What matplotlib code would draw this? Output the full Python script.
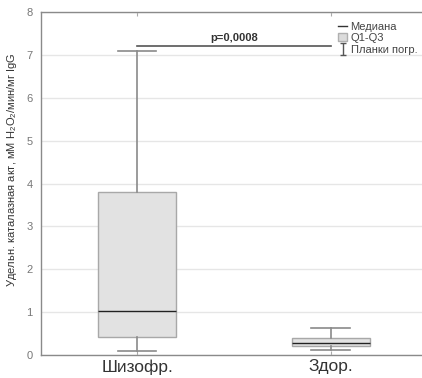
import matplotlib.pyplot as plt
import numpy as np
from matplotlib.lines import Line2D
from matplotlib.patches import Patch
from matplotlib.path import Path

plt.rcParams['font.family'] = ['Liberation Sans', 'DejaVu Sans']
plt.rcParams['mathtext.fontset'] = 'custom'
plt.rcParams['mathtext.rm'] = 'Liberation Sans'

# Группы и квартили (мМ H2O2/мин/мг IgG)
groups = ['Шизофр.', 'Здор.']
whisk_lo = [0.10, 0.12]
q1 = [0.42, 0.21]
median = [1.02, 0.28]
q3 = [3.80, 0.40]
whisk_hi = [7.09, 0.63]
p_text = 'p=0,0008'
p_level = 7.2

stats = []
for i, g in enumerate(groups):
    stats.append({'label': g, 'whislo': whisk_lo[i], 'q1': q1[i], 'med': median[i],
                  'q3': q3[i], 'whishi': whisk_hi[i], 'fliers': []})

fig = plt.figure(figsize=(4.22, 3.78), dpi=100)
ax = fig.add_axes([0.097, 0.061, 0.91, 0.907])

pos = np.arange(1, len(groups) + 1)
ax.bxp(stats, positions=pos, widths=0.404, patch_artist=True, showfliers=False,
       boxprops=dict(facecolor='#e2e2e2', edgecolor='#a8a8a8', linewidth=1.0),
       medianprops=dict(color='#222222', linewidth=1.0),
       whiskerprops=dict(color='#8a8a8a', linewidth=1.2),
       capprops=dict(color='#8a8a8a', linewidth=1.2), capwidths=0.2, zorder=3)

# линия значимости
ax.plot([pos[0], pos[1]], [p_level, p_level], color='#555555', lw=1.2, zorder=3)
ax.text((pos[0] + pos[1]) / 2, p_level + 0.08, p_text, ha='center', va='bottom',
        fontsize=8, fontweight='bold', color='#333333')

ax.set_xlim(0.503, 2.487)
ax.set_ylim(0, 8)
ax.set_yticks(range(0, 9))
ax.set_xticks(pos)
ax.set_xticklabels(groups, fontsize=12.5, color='#333333')
ax.tick_params(axis='y', labelsize=8, labelcolor='#777777', length=0, pad=6)
ax.tick_params(axis='x', direction='in', length=3, color='#aaaaaa', top=True, pad=3)
ax.grid(axis='y', color='#e6e6e6', linewidth=1.0, zorder=0)
ax.set_axisbelow(True)
for side in ['left', 'bottom', 'top']:
    ax.spines[side].set_color('#8a8a8a')
    ax.spines[side].set_linewidth(1.0)
ax.spines['right'].set_visible(False)

ax.set_ylabel('Удельн. каталазная акт, мМ H$_2$O$_2$/мин/мг IgG', fontsize=8,
              color='#333333')
ax.yaxis.set_label_coords(-0.058, 0.54)

# легенда
bar_path = Path([(-0.5, 1), (0.5, 1), (0, 1), (0, -1), (-0.5, -1), (0.5, -1)],
                [Path.MOVETO, Path.LINETO, Path.MOVETO, Path.LINETO, Path.MOVETO, Path.LINETO])
handles = [
    Line2D([], [], color='#333333', lw=1.0),
    Patch(facecolor='#dcdcdc', edgecolor='#b0b0b0'),
    Line2D([], [], ls='none', marker=bar_path, markersize=9, markeredgecolor='#555555',
           markeredgewidth=1.0),
]
ax.legend(handles, ['Медиана', 'Q1-Q3', 'Планки погр.'], loc='upper right',
          bbox_to_anchor=(1.0, 0.995), frameon=False, fontsize=8, labelcolor='#444444',
          handlelength=0.8, handletextpad=0.3, labelspacing=0.15, borderaxespad=0.3)

fig.savefig('out.png', dpi=100)
